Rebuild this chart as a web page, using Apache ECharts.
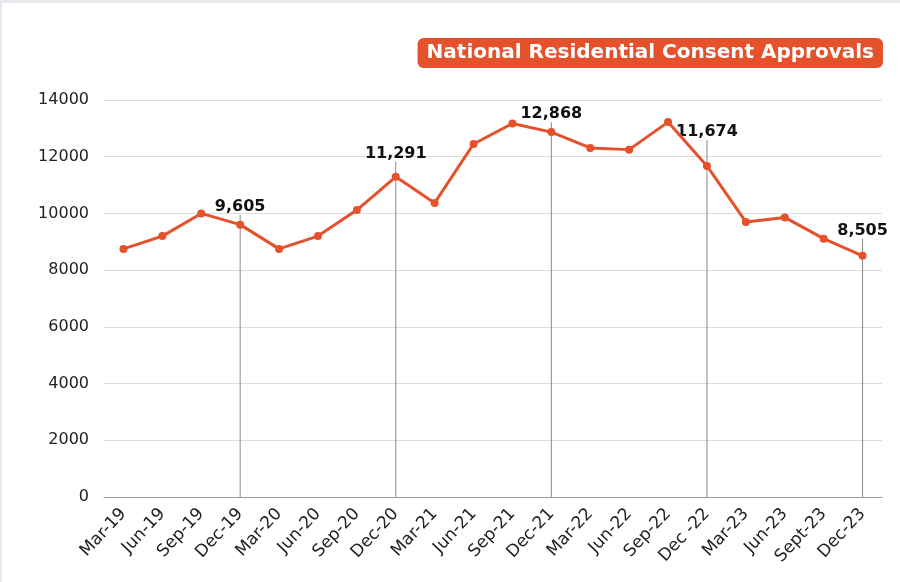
<!DOCTYPE html>
<html>
<head>
<meta charset="utf-8">
<script src="https://cdn.jsdelivr.net/npm/echarts@6/dist/echarts.min.js"></script>
<style>
  html, body { margin: 0; padding: 0; background: #fff; }
  #chart { width: 900px; height: 582px; }
</style>
</head>
<body>
<div id="chart"></div>
<script>
  // quarters shown on the x axis
  var quarters = ['Mar-19', 'Jun-19', 'Sep-19', 'Dec-19', 'Mar-20', 'Jun-20', 'Sep-20', 'Dec-20',
    'Mar-21', 'Jun-21', 'Sep-21', 'Dec-21', 'Mar-22', 'Jun-22', 'Sep-22', 'Dec -22',
    'Mar-23', 'Jun-23', 'Sept-23', 'Dec-23'];
  // consent approvals per quarter
  var approvals = [8750, 9200, 10000, 9605, 8750, 9200, 10120, 11291,
    10370, 12450, 13170, 12868, 12310, 12250, 13220, 11674,
    9700, 9860, 9110, 8505];
  // quarters that get a drop line and a value label
  var callouts = ['Dec-19', 'Dec-20', 'Dec-21', 'Dec -22', 'Dec-23'];

  var orange = '#e4512a';
  var lift = { 'Dec-19': 10, 'Dec-20': 15, 'Dec-21': 10, 'Dec -22': 26, 'Dec-23': 17 };

  var calloutData = callouts.map(function (q) {
    var i = quarters.indexOf(q);
    return [i, approvals[i]];
  });

  var myChart = echarts.init(document.getElementById('chart'));
  var option = {
    backgroundColor: '#fff',
    animation: false,
    title: {
      text: 'National Residential Consent Approvals',
      right: 17,
      top: 38,
      backgroundColor: orange,
      borderRadius: 6,
      padding: [5, 9, 5, 9],
      textStyle: {
        color: '#fff',
        fontFamily: 'DejaVu Sans',
        fontWeight: 'bold',
        fontSize: 20,
        lineHeight: 20
      }
    },
    graphic: [
      { type: 'rect', shape: { x: 0, y: 0, width: 900, height: 3 }, style: { fill: '#e6e9ed' } },
      { type: 'rect', shape: { x: 0, y: 0, width: 2, height: 582 }, style: { fill: '#e6e9ed' } }
    ],
    grid: {
      left: 104,
      right: 18,
      top: 100,
      bottom: 85
    },
    xAxis: {
      type: 'category',
      data: quarters,
      boundaryGap: true,
      axisTick: { show: false },
      axisLine: { show: true, lineStyle: { color: '#9a9a9a', width: 1 } },
      axisLabel: {
        rotate: 47,
        margin: 14,
        color: '#222',
        fontFamily: 'DejaVu Sans',
        fontSize: 17,
        interval: 0
      }
    },
    yAxis: {
      type: 'value',
      min: 0,
      max: 14000,
      interval: 2000,
      axisLine: { show: false },
      axisTick: { show: false },
      axisLabel: {
        margin: 15,
        color: '#222',
        fontFamily: 'DejaVu Sans',
        fontSize: 16,
        formatter: function (v) { return String(v); }
      },
      splitLine: { lineStyle: { color: '#dcdcdc', width: 1 } }
    },
    series: [{
      type: 'custom',
      z: 1,
      data: calloutData,
      renderItem: function (params, api) {
        var i = api.value(0);
        var base = api.coord([i, 0]);
        var top = api.coord([i, api.value(1)]);
        var yTop = top[1] - lift[quarters[i]];
        var txt = api.value(1).toLocaleString('en-US');
        return {
          type: 'group',
          children: [{
            type: 'line',
            shape: { x1: base[0], y1: base[1], x2: top[0], y2: yTop },
            style: { stroke: '#8a8a8a', lineWidth: 1 }
          }, {
            type: 'text',
            x: top[0],
            y: yTop,
            style: {
              text: txt,
              align: 'center',
              verticalAlign: 'bottom',
              fill: '#111',
              font: 'bold 16px "DejaVu Sans"'
            }
          }]
        };
      }
    }, {
      type: 'line',
      z: 3,
      data: approvals,
      symbol: 'circle',
      symbolSize: 8,
      lineStyle: { color: orange, width: 3 },
      itemStyle: { color: orange }
    }]
  };
  myChart.setOption(option);
</script>
</body>
</html>
